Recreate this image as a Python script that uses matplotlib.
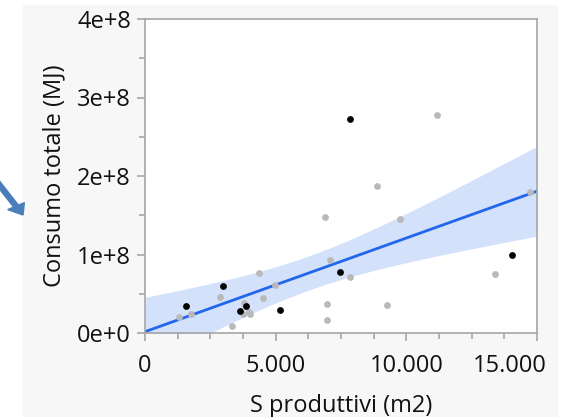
import matplotlib
matplotlib.use("Agg")
import matplotlib.pyplot as plt
import matplotlib.patches as patches
import matplotlib.ticker as ticker
import matplotlib.transforms as mtransforms
import numpy as np

# Points (x in m2, y in MJ).
black_x = [1570, 2970, 3640, 3870, 5180, 7470, 7860, 14030]
black_y = [0.344e8, 0.603e8, 0.284e8, 0.344e8, 0.293e8, 0.781e8, 2.726e8, 0.994e8]

gray_x = [1290, 1760, 2870, 3330, 3780, 3760, 3970, 4030, 4350, 4500, 4970,
          6880, 6980, 6980, 7090, 7860, 8870, 9260, 9760, 11170, 13380, 14730]
gray_y = [0.204e8, 0.238e8, 0.455e8, 0.093e8, 0.386e8, 0.238e8, 0.271e8, 0.238e8,
          0.760e8, 0.446e8, 0.607e8, 1.474e8, 0.365e8, 0.161e8, 0.926e8, 0.713e8,
          1.869e8, 0.357e8, 1.448e8, 2.781e8, 0.752e8, 1.796e8]

x_label = "S produttivi (m2)"
y_label = "Consumo totale (MJ)"
x_ticks = [0, 5000, 10000, 15000]
x_tick_labels = ["0", "5.000", "10.000", "15.000"]
y_ticks = [0, 1e8, 2e8, 3e8, 4e8]
y_tick_labels = ["0e+0", "1e+8", "2e+8", "3e+8", "4e+8"]

plt.rcParams["font.family"] = ["Open Sans", "DejaVu Sans"]

W, H = 571, 417
fig = plt.figure(figsize=(W / 100, H / 100), dpi=100)
fig.patch.set_facecolor("white")

# light grey panel behind the plot
fig.patches.append(patches.Rectangle((23 / W, 0), (557 - 23) / W, (417 - 5) / H,
                                     transform=fig.transFigure, color="#f7f7f7", zorder=-2))

# blue arrow pointing at the chart, partly cut off at the left edge
fig.patches.append(patches.FancyArrow(-6 / W, 1 - 178 / H, 29 / W, -37 / H,
                                      width=4 / H, head_width=14 / H, head_length=14 / W,
                                      length_includes_head=True, transform=fig.transFigure,
                                      color="#4a7ebb", zorder=-1))

ax = fig.add_axes([145 / W, 1 - 333 / H, (537 - 145) / W, (333 - 19) / H])
ax.set_facecolor("white")

# least-squares fit with 95% confidence band over all points
all_x = np.array(black_x + gray_x, dtype=float)
all_y = np.array(black_y + gray_y, dtype=float)
n = len(all_x)
slope, intercept = np.polyfit(all_x, all_y, 1)
resid = all_y - (slope * all_x + intercept)
s = np.sqrt(np.sum(resid ** 2) / (n - 2))
sxx = np.sum((all_x - all_x.mean()) ** 2)
xs = np.linspace(0, 15000, 200)
fit = slope * xs + intercept
half = 2.048 * s * np.sqrt(1 / n + (xs - all_x.mean()) ** 2 / sxx)

ax.fill_between(xs, fit - half, fit + half, color="#d3e1fb", lw=0, zorder=1)
ax.plot(xs, fit, color="#2266ee", lw=2, zorder=2)

ax.scatter(gray_x, gray_y, s=24, color="#b9b9b9", lw=0, zorder=3)
ax.scatter(black_x, black_y, s=24, color="black", lw=0, zorder=4)

ax.set_xlim(0, 15000)
ax.set_ylim(0, 4e8)
ax.set_xticks(x_ticks)
ax.set_xticklabels(x_tick_labels)
ax.set_yticks(y_ticks)
ax.set_yticklabels(y_tick_labels)
ax.xaxis.set_minor_locator(ticker.MultipleLocator(1250))
ax.yaxis.set_minor_locator(ticker.MultipleLocator(0.5e8))

for spine in ax.spines.values():
    spine.set_color("#a6a6a6")
    spine.set_linewidth(1.2)

ax.tick_params(which="both", color="#a6a6a6", width=1.2, labelsize=17, labelcolor="#111111")
ax.tick_params(which="major", length=6)
ax.tick_params(axis="x", which="major", pad=9)
ax.tick_params(axis="y", which="major", pad=4)
ax.tick_params(which="minor", length=4)

# the last x label is pulled inward so it stays inside the panel
last = ax.get_xticklabels()[-1]
last.set_horizontalalignment("right")
last.set_transform(last.get_transform() + mtransforms.ScaledTranslation(10 / 100, 0, fig.dpi_scale_trans))

ax.set_xlabel(x_label, fontsize=17, color="#111111", labelpad=12)
ax.set_ylabel(y_label, fontsize=17, color="#111111", labelpad=8)

fig.savefig("out.png", dpi=100)
